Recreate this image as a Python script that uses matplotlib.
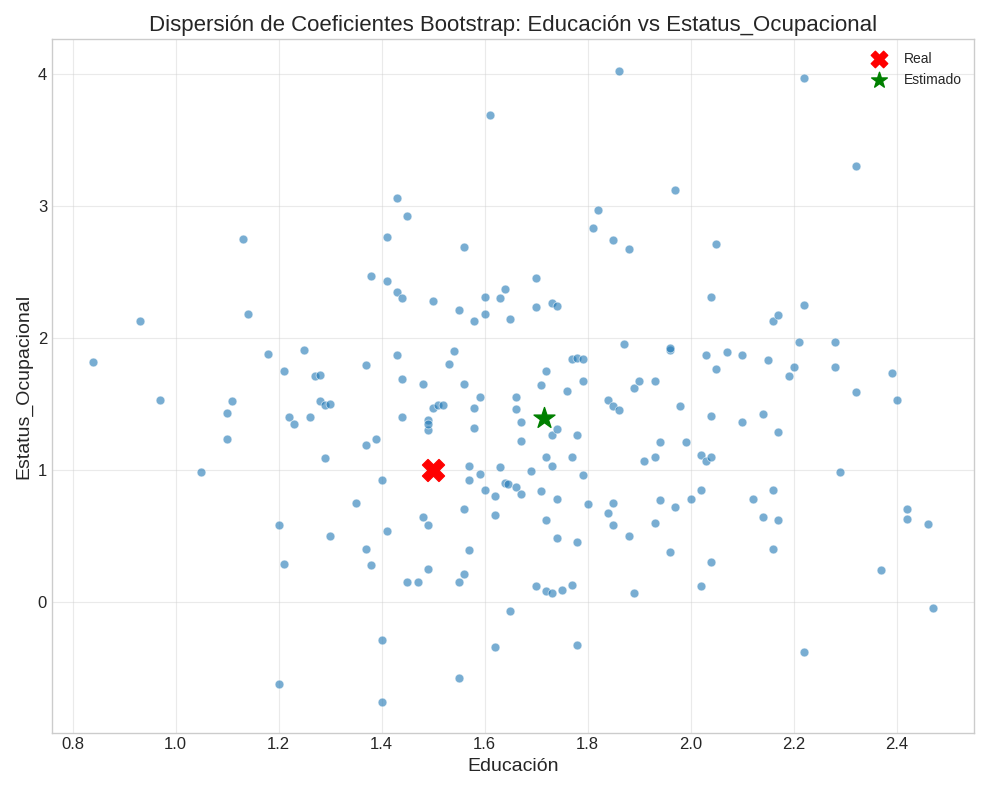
import numpy as np
import matplotlib.pyplot as plt

# bootstrap coefficient pairs (educacion, estatus)
boot_pts = [
    (0.84,1.82),(0.93,2.13),(0.97,1.53),(1.05,0.98),(1.10,1.23),(1.10,1.43),(1.11,1.52),(1.13,2.75),
    (1.14,2.18),(1.18,1.88),(1.20,0.58),(1.21,1.75),(1.21,0.29),(1.20,-0.62),(1.22,1.40),(1.23,1.35),
    (1.25,1.91),(1.26,1.40),(1.27,1.71),(1.28,1.72),(1.28,1.52),(1.29,1.49),(1.29,1.09),(1.30,1.50),
    (1.30,0.50),(1.35,0.75),(1.37,0.40),(1.37,1.79),(1.37,1.19),(1.38,2.47),(1.38,0.28),(1.39,1.23),
    (1.40,0.92),(1.40,-0.29),(1.40,-0.76),(1.41,0.54),(1.41,2.43),(1.41,2.76),(1.43,3.06),(1.43,1.87),
    (1.43,2.35),(1.44,2.30),(1.44,1.40),(1.44,1.69),(1.45,2.92),(1.45,0.15),(1.47,0.15),(1.48,1.65),
    (1.48,0.64),(1.49,1.38),(1.49,0.58),(1.49,0.25),(1.49,1.30),(1.49,1.35),(1.50,1.47),(1.50,2.28),
    (1.51,1.49),(1.52,1.49),(1.53,1.80),(1.54,1.90),(1.55,2.21),(1.55,0.15),(1.55,-0.58),(1.56,2.69),
    (1.56,1.65),(1.56,0.21),(1.56,0.70),(1.57,0.92),(1.57,1.03),(1.57,0.39),(1.58,1.47),(1.58,1.32),
    (1.58,2.13),(1.59,1.55),(1.59,0.97),(1.60,0.85),(1.60,2.18),(1.60,2.31),(1.61,3.69),(1.62,0.80),
    (1.62,-0.34),(1.62,0.66),(1.63,2.30),(1.63,1.02),(1.64,0.90),(1.645,0.89),(1.64,2.37),(1.65,2.14),
    (1.65,-0.07),(1.66,1.46),(1.66,1.55),(1.66,0.87),(1.67,1.36),(1.67,1.22),(1.67,0.82),(1.69,0.99),
    (1.70,2.45),(1.70,2.23),(1.70,0.12),(1.71,0.84),(1.71,1.64),(1.72,1.75),(1.72,1.10),(1.72,0.62),
    (1.72,0.08),(1.73,0.07),(1.73,1.03),(1.73,1.26),(1.73,2.26),(1.74,2.24),(1.74,1.31),(1.74,0.78),
    (1.74,0.48),(1.75,0.09),(1.76,1.60),(1.77,1.84),(1.77,1.10),(1.77,0.13),(1.78,1.85),(1.78,1.26),
    (1.78,0.45),(1.78,-0.33),(1.79,1.84),(1.79,1.67),(1.79,0.96),(1.80,0.74),(1.81,2.83),(1.82,2.97),
    (1.84,1.53),(1.84,0.67),(1.85,1.48),(1.85,2.74),(1.85,0.58),(1.85,0.75),(1.86,1.45),(1.86,4.02),
    (1.87,1.95),(1.88,2.67),(1.88,0.50),(1.89,0.07),(1.89,1.62),(1.90,1.67),(1.91,1.07),(1.93,1.67),
    (1.93,0.60),(1.93,1.10),(1.94,1.21),(1.94,0.77),(1.96,1.91),(1.96,1.92),(1.96,0.38),(1.97,3.12),
    (1.97,0.72),(1.98,1.48),(1.99,1.21),(2.00,0.78),(2.02,1.11),(2.02,0.85),(2.02,0.12),(2.03,1.87),
    (2.03,1.07),(2.04,1.10),(2.04,2.31),(2.04,0.30),(2.04,1.41),(2.05,2.71),(2.05,1.76),(2.07,1.89),
    (2.10,1.87),(2.10,1.36),(2.12,0.78),(2.14,1.42),(2.14,0.64),(2.15,1.83),(2.16,2.13),(2.16,0.40),
    (2.16,0.85),(2.17,2.17),(2.17,1.29),(2.17,0.62),(2.19,1.71),(2.20,1.78),(2.21,1.97),(2.22,3.97),
    (2.22,-0.38),(2.22,2.25),(2.28,1.97),(2.28,1.78),(2.29,0.98),(2.32,3.30),(2.32,1.59),(2.37,0.24),
    (2.39,1.73),(2.40,1.53),(2.42,0.70),(2.42,0.63),(2.46,0.59),(2.47,-0.05),
]
educ = np.array([p[0] for p in boot_pts])
estatus = np.array([p[1] for p in boot_pts])

real = (1.5, 1.0)
estimado = (1.715, 1.39)

plt.style.use('seaborn-v0_8-whitegrid')
plt.rcParams['font.family'] = 'Liberation Sans'
fig, ax = plt.subplots(figsize=(9.89, 7.9), dpi=100)

ax.scatter(educ, estatus, s=40, color='#1f77b4', alpha=0.6, edgecolors='white', linewidths=0.6)
ax.scatter(*real, marker='X', s=250, color='red', label='Real', zorder=5)
ax.scatter(*estimado, marker='*', s=250, color='green', label='Estimado', zorder=5)

ax.set_xlim(0.76, 2.55)
ax.set_ylim(-0.99, 4.26)
ax.set_title('Dispersión de Coeficientes Bootstrap: Educación vs Estatus_Ocupacional', fontsize=16)
ax.set_xlabel('Educación', fontsize=14)
ax.set_ylabel('Estatus_Ocupacional', fontsize=14)
ax.tick_params(labelsize=12)
for s in ax.spines.values():
    s.set_visible(True)
    s.set_color('#cccccc')
ax.grid(True, alpha=0.4)
ax.legend(loc='upper right', markerscale=0.75)

plt.tight_layout()
plt.savefig('out.png')
